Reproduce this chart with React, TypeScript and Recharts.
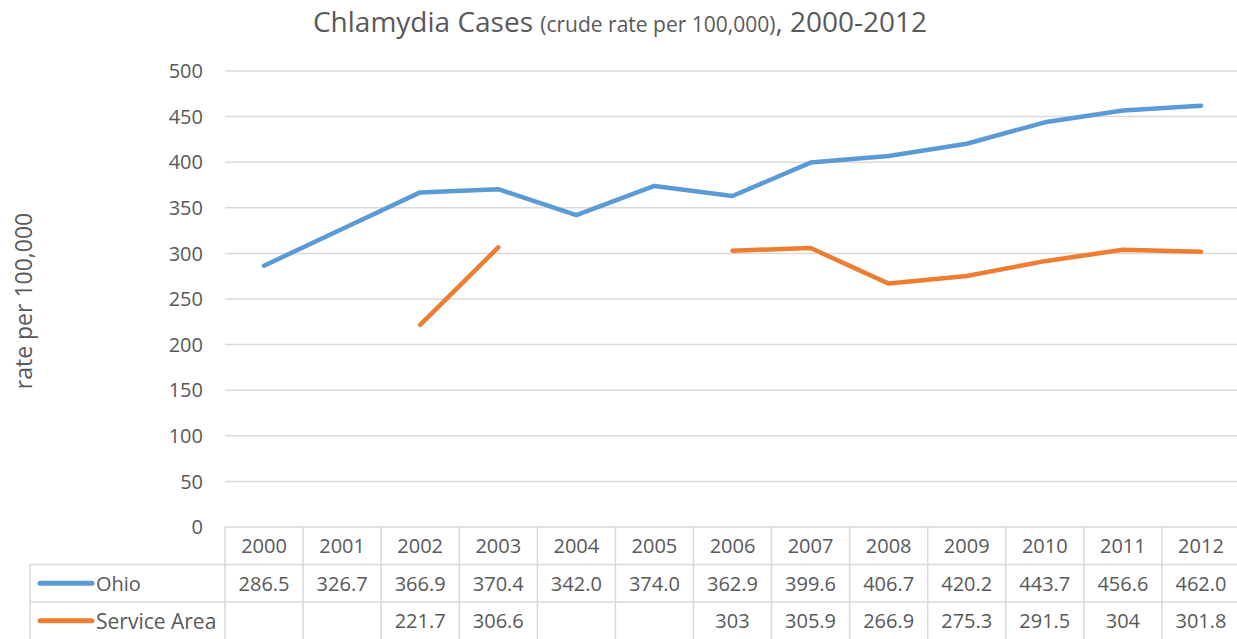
import { CartesianGrid, Customized, Line, LineChart, XAxis, YAxis } from 'recharts';

const years = ['2000', '2001', '2002', '2003', '2004', '2005', '2006', '2007', '2008', '2009', '2010', '2011', '2012'];
const ohio = [286.5, 326.7, 366.9, 370.4, 342.0, 374.0, 362.9, 399.6, 406.7, 420.2, 443.7, 456.6, 462.0];
const serviceArea = [null, null, 221.7, 306.6, null, null, 303, 305.9, 266.9, 275.3, 291.5, 304, 301.8];
const yTicks = [0, 50, 100, 150, 200, 250, 300, 350, 400, 450, 500];

const data = years.map((year, i) => ({ year, ohio: ohio[i], serviceArea: serviceArea[i] }));

const FONT = '"Open Sans", sans-serif';
const TEXT = '#595959';
const GRID = '#d9d9d9';
const BLUE = '#5b9bd5';
const ORANGE = '#ed7d31';

const CHART_W = 1241;
const CHART_H = 639;
const PLOT_LEFT = 225;
const PLOT_RIGHT = 1240;
const COL_W = (PLOT_RIGHT - PLOT_LEFT) / years.length;
const ROW_H = 37.5;
const TABLE_LEFT = 30;

function TableTick(props: any) {
	const { x, y, index } = props;
	const left = x - COL_W / 2;
	const right = x + COL_W / 2;
	const bottom = y + ROW_H * 3 + 2;
	const sa = serviceArea[index];
	const textProps = {
		fill: TEXT,
		fontSize: 20,
		fontFamily: FONT,
		textAnchor: 'middle' as const,
		dominantBaseline: 'central' as const,
	};
	return (
		<g>
			<line x1={left} x2={left} y1={y} y2={bottom} stroke={GRID} strokeWidth={1.5} />
			{index === years.length - 1 && (
				<line x1={right} x2={right} y1={y} y2={bottom} stroke={GRID} strokeWidth={1.5} />
			)}
			<line x1={left} x2={right} y1={y + ROW_H} y2={y + ROW_H} stroke={GRID} strokeWidth={1.5} />
			<line x1={left} x2={right} y1={y + ROW_H * 2} y2={y + ROW_H * 2} stroke={GRID} strokeWidth={1.5} />
			<text x={x} y={y + ROW_H / 2} {...textProps}>{years[index]}</text>
			<text x={x} y={y + ROW_H * 1.5} {...textProps}>{ohio[index].toFixed(1)}</text>
			{sa !== null && (
				<text x={x} y={y + ROW_H * 2.5} {...textProps}>{String(sa)}</text>
			)}
			{index === 0 && (
				<g>
					<line x1={TABLE_LEFT} x2={left} y1={y + ROW_H} y2={y + ROW_H} stroke={GRID} strokeWidth={1.5} />
					<line x1={TABLE_LEFT} x2={left} y1={y + ROW_H * 2} y2={y + ROW_H * 2} stroke={GRID} strokeWidth={1.5} />
					<line x1={TABLE_LEFT} x2={TABLE_LEFT} y1={y + ROW_H} y2={bottom} stroke={GRID} strokeWidth={1.5} />
					<line x1={40} x2={92} y1={y + ROW_H * 1.5} y2={y + ROW_H * 1.5} stroke={BLUE} strokeWidth={5} strokeLinecap="round" />
					<line x1={40} x2={92} y1={y + ROW_H * 2.5} y2={y + ROW_H * 2.5} stroke={ORANGE} strokeWidth={5} strokeLinecap="round" />
					<text x={96} y={y + ROW_H * 1.5} {...textProps} textAnchor="start">Ohio</text>
					<text x={96} y={y + ROW_H * 2.5} {...textProps} textAnchor="start" fontSize={21}>Service Area</text>
				</g>
			)}
		</g>
	);
}

function Titles() {
	return (
		<g fontFamily={FONT} fill={TEXT}>
			<text x={620} y={32} textAnchor="middle" fontSize={28}>
				Chlamydia Cases <tspan fontSize={21}>(crude rate per 100,000)</tspan>, 2000-2012
			</text>
			<text
				x={32}
				y={301}
				textAnchor="middle"
				fontSize={23}
				transform="rotate(-90 32 301)"
			>
				rate per 100,000
			</text>
		</g>
	);
}

export default function App() {
	return (
		<div
			style={{
				position: 'absolute',
				left: 0,
				top: 0,
				width: 1237,
				height: 639,
				overflow: 'hidden',
				background: '#fff',
			}}
		>
			<LineChart
				width={CHART_W}
				height={CHART_H}
				data={data}
				margin={{ top: 71, right: CHART_W - PLOT_RIGHT, left: PLOT_LEFT - 60, bottom: 0 }}
			>
				<CartesianGrid vertical={false} stroke={GRID} strokeWidth={1.5} />
				<XAxis
					dataKey="year"
					height={112}
					axisLine={false}
					tickLine={false}
					tickSize={0}
					tickMargin={0}
					interval={0}
					padding={{ left: COL_W / 2, right: COL_W / 2 }}
					tick={<TableTick />}
				/>
				<YAxis
					width={60}
					domain={[0, 500]}
					ticks={yTicks}
					axisLine={false}
					tickLine={false}
					tickSize={0}
					tickMargin={22}
					tick={{ fill: TEXT, fontSize: 20, fontFamily: FONT }}
				/>
				<Line
					dataKey="ohio"
					stroke={BLUE}
					strokeWidth={4.5}
					strokeLinecap="round"
					strokeLinejoin="round"
					dot={false}
					isAnimationActive={false}
				/>
				<Line
					dataKey="serviceArea"
					stroke={ORANGE}
					strokeWidth={4.5}
					strokeLinecap="round"
					strokeLinejoin="round"
					dot={false}
					connectNulls={false}
					isAnimationActive={false}
				/>
				<Customized component={Titles} />
			</LineChart>
		</div>
	);
}
